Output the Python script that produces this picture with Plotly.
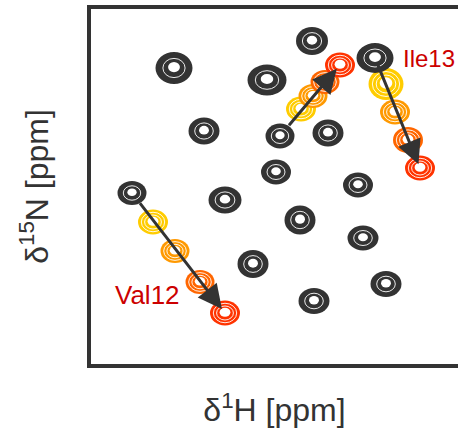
import plotly.graph_objects as go

# Reference (free) spectrum: 1H / 15N peak positions and linewidths, ppm
ref_h = [9.15, 7.77, 8.22, 7.14, 8.85, 8.09, 7.61, 8.13, 7.31, 9.57, 8.64, 7.89, 7.26, 8.36, 7.03, 7.75]
ref_n = [106.88, 104.72, 107.84, 106.08, 111.92, 112.32, 112.08, 115.20, 116.24, 116.88, 117.44, 119.04, 120.48, 122.56, 124.16, 125.52]
ref_wh = [0.37, 0.32, 0.39, 0.37, 0.31, 0.29, 0.31, 0.30, 0.30, 0.29, 0.33, 0.31, 0.31, 0.31, 0.31, 0.31]
ref_wn = [2.56, 2.24, 2.48, 2.40, 2.16, 2.00, 2.16, 2.00, 2.00, 1.92, 2.16, 2.32, 2.00, 2.24, 2.08, 2.08]

# Titration steps (increasing ligand) for the three shifting residues
step_colors = ["#FFCC00", "#FF9900", "#FF6600", "#FF3300"]
val12_h = [9.36, 9.14, 8.89, 8.64]
val12_n = [119.20, 121.52, 124.00, 126.48]
mid_h = [7.88, 7.76, 7.64, 7.49]
mid_n = [110.16, 109.12, 108.00, 106.64]
ile13_h = [7.03, 6.94, 6.81, 6.69]
ile13_n = [108.16, 110.40, 112.64, 114.88]
step_wh = [0.30, 0.29, 0.29, 0.30]
step_wn = [2.00, 1.92, 1.92, 2.00]
ile13_wh = [0.35, 0.30, 0.30, 0.30]
ile13_wn = [2.56, 2.00, 2.08, 2.00]

# index of each shifting residue in the reference peak list
val12_ref, mid_ref, ile13_ref = 9, 5, 3

H_RANGE = [9.98, 6.31]
N_RANGE = [130.56, 102.16]
DARK = "#333333"

shapes = []


def ellipse(h, n, wh, wn, scale, fill=None, line=None, lw=0):
    rh, rn = wh / 2 * scale, wn / 2 * scale
    d = dict(type="circle", xref="x", yref="y",
             x0=h - rh, x1=h + rh, y0=n - rn, y1=n + rn, layer="above")
    if fill:
        d["fillcolor"] = fill
        d["line"] = dict(width=0)
    else:
        d["fillcolor"] = "rgba(0,0,0,0)"
        d["line"] = dict(color=line, width=lw)
    return d


def contour_peak(h, n, wh, wn, color, levels, hole):
    shapes.append(ellipse(h, n, wh, wn, 1.0, fill=color))
    for s in levels:
        shapes.append(ellipse(h, n, wh, wn, s, line="white", lw=0.9))
    shapes.append(ellipse(h, n - wn * 0.03, wh, wn, hole, fill="white"))


# titration series first, reference peaks on top
for hs, ns, whs, wns in [(val12_h, val12_n, step_wh, step_wn),
                         (mid_h, mid_n, step_wh, step_wn),
                         (ile13_h, ile13_n, ile13_wh, ile13_wn)]:
    for i in range(4):
        contour_peak(hs[i], ns[i], whs[i], wns[i], step_colors[i], [0.78, 0.56], 0.36)

for h, n, wh, wn in zip(ref_h, ref_n, ref_wh, ref_wn):
    contour_peak(h, n, wh, wn, DARK, [0.6], 0.32)

fig = go.Figure()
# invisible trace so the axes are drawn
fig.add_trace(go.Scatter(x=ref_h, y=ref_n, mode="markers",
                         marker=dict(size=1, opacity=0), hoverinfo="skip", showlegend=False))

annotations = []
for ref_i, hs, ns, start_off, end_off in [(val12_ref, val12_h, val12_n, 11, 5),
                                          (mid_ref, mid_h, mid_n, 12, 5),
                                          (ile13_ref, ile13_h, ile13_n, 5, 4)]:
    annotations.append(dict(x=hs[-1], y=ns[-1], ax=ref_h[ref_i], ay=ref_n[ref_i],
                            xref="x", yref="y", axref="x", ayref="y", text="",
                            showarrow=True, arrowhead=2, arrowsize=1.6, arrowwidth=3,
                            arrowcolor=DARK, standoff=end_off, startstandoff=start_off))

annotations.append(dict(x=9.42, y=125.04, xref="x", yref="y", text="Val12", showarrow=False,
                        font=dict(family="Liberation Sans, Arial", size=26, color="#CC0000"),
                        xanchor="center", yanchor="middle"))
annotations.append(dict(x=6.88, y=106.08, xref="x", yref="y", text="Ile13", showarrow=False,
                        font=dict(family="Liberation Sans, Arial", size=24, color="#CC0000"),
                        xanchor="left", yanchor="middle"))

title_font = dict(family="Liberation Sans, Arial", size=32, color=DARK)
fig.update_layout(
    width=458, height=436,
    margin=dict(l=91, r=0, t=9, b=72),
    paper_bgcolor="white", plot_bgcolor="white",
    shapes=shapes, annotations=annotations,
    xaxis=dict(range=H_RANGE, showgrid=False, zeroline=False, showticklabels=False,
               ticks="", showline=True, linewidth=4, linecolor=DARK, mirror=True,
               title=dict(text="δ<sup>1</sup>H [ppm]", font=title_font, standoff=33)),
    yaxis=dict(range=N_RANGE, showgrid=False, zeroline=False, showticklabels=False,
               ticks="", showline=True, linewidth=4, linecolor=DARK,
               title=dict(text="δ<sup>15</sup>N [ppm]", font=title_font, standoff=30)),
)

fig.write_html("out.html")
